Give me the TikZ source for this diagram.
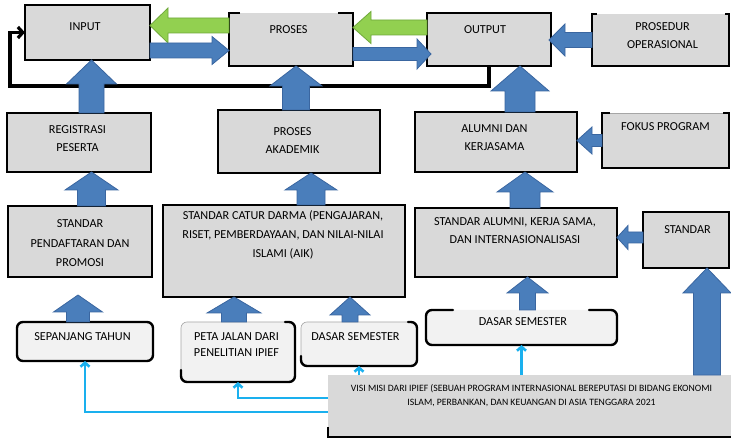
\documentclass[tikz,border=0pt]{standalone}
\usepackage{fontspec}
\setmainfont{Carlito}
\usetikzlibrary{calc,arrows.meta}

\definecolor{boxgray}{HTML}{D9D9D9}
\definecolor{softgray}{HTML}{F2F2F2}
\definecolor{arrowblue}{HTML}{4A7EBB}
\definecolor{arrowedge}{HTML}{3A66A0}
\definecolor{arrowgreen}{HTML}{92D050}
\definecolor{greenedge}{HTML}{6FA83A}
\definecolor{linkcyan}{HTML}{1AB0EE}

\tikzset{
  box/.style={fill=boxgray, draw=black, line width=2.4pt, outer sep=0pt, inner sep=0pt},
  openbox/.style={fill=boxgray, outer sep=0pt, inner sep=0pt},
  softbox/.style={fill=softgray, rounded corners=6pt, outer sep=0pt, inner sep=0pt},
  faintrim/.style={draw=black!35, line width=0.6pt},
  rim/.style={draw=black, line width=2.4pt, line cap=round, rounded corners=6pt},
  sharprim/.style={draw=black, line width=2.4pt, line cap=butt},
  lbl/.style={font=\fontsize{12.2}{18}\selectfont, align=center, inner sep=0pt},
  bluearrow/.style={fill=arrowblue, draw=arrowedge, line width=0.8pt, line join=miter},
  greenarrow/.style={fill=arrowgreen, draw=greenedge, line width=0.8pt, line join=miter},
  loopline/.style={draw=black, line width=3.2pt, -{Straight Barb[length=5pt,width=11pt]}},
  cyanlink/.style={draw=linkcyan, line width=2.6pt, -{Straight Barb[length=4pt,width=9pt]}},
}

% block arrow: #1 style, #2 base, #3 tip, #4 half shaft, #5 half head, #6 head length
\newcommand\blockarrow[6]{%
  \coordinate (ba-h) at ($#3!#6!#2$);
  \path[#1] ($#2!#4!90:#3$) -- ($(ba-h)!#4!90:#3$) -- ($(ba-h)!#5!90:#3$) -- #3
    -- ($(ba-h)!#5!-90:#3$) -- ($(ba-h)!#4!-90:#3$) -- ($#2!#4!-90:#3$) -- cycle;}

\begin{document}
\begin{tikzpicture}[x=1pt, y=-1pt]
\useasboundingbox (0,0) rectangle (731,438);

% ---- top row
\node[box, minimum width=125pt, minimum height=55pt] (in) at (87.5,32.5) {};
\node[openbox, minimum width=124pt, minimum height=53pt] (pro) at (291,39.5) {};
\draw[sharprim] ([xshift=11pt]pro.north west) -- (pro.north west) -- (pro.south west)
  -- (pro.south east) -- (pro.north east) -- ([xshift=-15pt]pro.north east);
\node[box, minimum width=124pt, minimum height=53pt] (out) at (489,39.5) {};
\node[openbox, minimum width=137pt, minimum height=52pt] (psd) at (660.5,40) {};
\draw[sharprim] ([xshift=5pt]psd.north west) -- (psd.north west) -- (psd.south west)
  -- (psd.south east) -- (psd.north east) -- ([xshift=-4pt]psd.north east);

% ---- second row
\node[box, minimum width=144pt, minimum height=59pt] (reg) at (79,142.5) {};
\node[box, minimum width=162pt, minimum height=63pt] (pak) at (299,141.5) {};
\node[box, minimum width=162pt, minimum height=60pt] (alm) at (496,142) {};
\node[openbox, minimum width=127pt, minimum height=55pt] (fok) at (665.5,140.5) {};
\draw[faintrim] (fok.north west) -- (fok.north east);
\draw[sharprim] ([xshift=8pt]fok.north west) -- (fok.north west) -- (fok.south west)
  -- (fok.south east) -- (fok.north east) -- ([xshift=-6pt]fok.north east);

% ---- third row
\node[box, minimum width=144pt, minimum height=71pt] (spd) at (80,241.5) {};
\node[box, minimum width=242pt, minimum height=92pt] (scd) at (284,251) {};
\node[box, minimum width=202pt, minimum height=69pt] (sal) at (516,242.5) {};
\node[box, minimum width=86pt, minimum height=56pt] (std) at (686,240) {};

% ---- bottom row
\node[softbox, draw=black, line width=2.4pt, minimum width=136pt, minimum height=39pt] (spj) at (85,341.5) {};
\node[softbox, minimum width=114pt, minimum height=60pt] (pet) at (238,352) {};
\draw[faintrim, rounded corners=6pt] (pet.south west) rectangle (pet.north east);
\draw[rim] ([yshift=12pt]pet.south west) -- (pet.south west) -- (pet.south east)
  -- (pet.north east) -- ([xshift=-10pt]pet.north east);
\node[softbox, minimum width=116pt, minimum height=44pt] (ds1) at (359,344) {};
\draw[faintrim, rounded corners=6pt] (ds1.south west) rectangle (ds1.north east);
\draw[rim] ([yshift=10pt]ds1.south west) -- (ds1.south west) -- (ds1.south east)
  -- (ds1.north east) -- ([xshift=-9pt]ds1.north east);
\node[softbox, minimum width=191pt, minimum height=35pt] (ds2) at (521.5,327.5) {};
\draw[rim] ([xshift=27pt]ds2.north west) -- (ds2.north west) -- (ds2.south west)
  -- (ds2.south east) -- (ds2.north east) -- ([xshift=-28pt]ds2.north east);
\node[openbox, minimum width=403pt, minimum height=62pt] (vis) at (529.5,406) {};
\draw[sharprim] ([yshift=10pt]vis.south west) -- (vis.south west) -- (vis.south east);

% ---- labels
\node[lbl] (in-t)  at (85,27)     {INPUT};
\node[lbl] (pro-t) at (288.5,30)  {PROSES};
\node[lbl] (out-t) at (485,30)    {OUTPUT};
\node[lbl] (psd-t) at (662.5,36)  {PROSEDUR\\OPERASIONAL};
\node[lbl] (reg-t) at (77.5,138.5) {REGISTRASI\\PESERTA};
\node[lbl] (pak-t) at (292.5,140.5) {PROSES\\AKADEMIK};
\node[lbl] (alm-t) at (494.5,137.5) {ALUMNI DAN\\KERJASAMA};
\node[lbl] (fok-t) at (665.5,127) {FOKUS PROGRAM};
\node[lbl, font=\fontsize{12.2}{19.5}\selectfont] (spd-t) at (80,243.5)
  {STANDAR\\PENDAFTARAN DAN\\PROMOSI};
\node[lbl, font=\fontsize{12.2}{19}\selectfont] (scd-t) at (283,235)
  {STANDAR CATUR DARMA (PENGAJARAN,\\RISET, PEMBERDAYAAN, DAN NILAI-NILAI\\ISLAMI (AIK)};
\node[lbl] (sal-t) at (515,231)   {STANDAR ALUMNI, KERJA SAMA,\\DAN INTERNASIONALISASI};
\node[lbl] (std-t) at (687.5,230) {STANDAR};
\node[lbl] (spj-t) at (82.5,337)  {SEPANJANG TAHUN};
\node[lbl, font=\fontsize{12.2}{16}\selectfont] (pet-t) at (236.5,345)
  {PETA JALAN DARI\\PENELITIAN IPIEF};
\node[lbl] (ds1-t) at (355.5,337) {DASAR SEMESTER};
\node[lbl] (ds2-t) at (523,322)   {DASAR SEMESTER};
\node[lbl, font=\fontsize{9.7}{14}\selectfont] (vis-t) at (531.5,396)
  {VISI MISI DARI IPIEF (SEBUAH PROGRAM INTERNASIONAL BEREPUTASI DI BIDANG EKONOMI\\
   ISLAM, PERBANKAN, DAN KEUANGAN DI ASIA TENGGARA 2021};

% ---- feedback loop from output back to input
\coordinate (loopc) at (10,86);
\draw[loopline] (out.south) |- (loopc) |- (in.west);

% ---- vertical block arrows
\coordinate (b1) at ([xshift=12.5pt]reg.north);  \coordinate (t1) at (b1 |- in.south);
\blockarrow{bluearrow}{(b1)}{(t1)}{12.5pt}{25pt}{24pt}
\coordinate (b2) at ([xshift=-3pt]pak.north);    \coordinate (t2) at (b2 |- pro.south);
\blockarrow{bluearrow}{(b2)}{(t2)}{13.5pt}{26pt}{20pt}
\coordinate (b3) at ([xshift=24pt]alm.north);    \coordinate (t3) at (b3 |- out.south);
\blockarrow{bluearrow}{(b3)}{(t3)}{15pt}{29pt}{25pt}
\coordinate (b4) at ([xshift=11.5pt]spd.north);  \coordinate (t4) at (b4 |- reg.south);
\blockarrow{bluearrow}{(b4)}{(t4)}{14pt}{26.5pt}{18pt}
\coordinate (b5) at ([xshift=27pt]scd.north);    \coordinate (t5) at (b5 |- pak.south);
\blockarrow{bluearrow}{(b5)}{(t5)}{14pt}{26pt}{17pt}
\coordinate (b6) at ([xshift=9pt]sal.north);     \coordinate (t6) at (b6 |- alm.south);
\blockarrow{bluearrow}{(b6)}{(t6)}{15pt}{28pt}{20pt}
\coordinate (b7) at ([xshift=-7pt]spj.north);    \coordinate (t7) at ([yshift=-18pt]b7 |- spd.south);
\blockarrow{bluearrow}{(b7)}{(t7)}{11.5pt}{24.5pt}{17pt}
\coordinate (b8) at ([xshift=-4pt]pet.north);    \coordinate (t8) at (b8 |- scd.south);
\blockarrow{bluearrow}{(b8)}{(t8)}{12.5pt}{27pt}{16pt}
\coordinate (b9) at ([xshift=-9pt]ds1.north);    \coordinate (t9) at (b9 |- scd.south);
\blockarrow{bluearrow}{(b9)}{(t9)}{8pt}{20pt}{18pt}
\coordinate (b10) at ([xshift=6pt]ds2.north);    \coordinate (t10) at (b10 |- sal.south);
\blockarrow{bluearrow}{(b10)}{(t10)}{8pt}{20.5pt}{16pt}
\coordinate (t11) at ([xshift=21pt]std.south);   \coordinate (b11) at (t11 |- vis.north);
\blockarrow{bluearrow}{(b11)}{(t11)}{13.5pt}{24pt}{25pt}

% ---- horizontal block arrows
\coordinate (b12) at ([yshift=14pt]pro.west);    \coordinate (t12) at (b12 -| in.east);
\blockarrow{greenarrow}{(b12)}{(t12)}{7.5pt}{17.5pt}{18pt}
\coordinate (b13) at ([yshift=-18pt]in.east);    \coordinate (t13) at (b13 -| pro.west);
\blockarrow{bluearrow}{(b13)}{(t13)}{7.5pt}{14pt}{17pt}
\coordinate (b14) at ([yshift=12pt]out.west);    \coordinate (t14) at (b14 -| pro.east);
\blockarrow{greenarrow}{(b14)}{(t14)}{7.5pt}{16pt}{18pt}
\coordinate (b15) at ([yshift=-14.5pt]pro.east); \coordinate (t15) at ([xshift=4pt]b15 -| out.west);
\blockarrow{bluearrow}{(b15)}{(t15)}{6.5pt}{15pt}{14pt}
\coordinate (b16) at (psd.west);                 \coordinate (t16) at ([xshift=-2pt]b16 -| out.east);
\blockarrow{bluearrow}{(b16)}{(t16)}{7.5pt}{16pt}{16pt}
\coordinate (b17) at (fok.west);                 \coordinate (t17) at (b17 -| alm.east);
\blockarrow{bluearrow}{(b17)}{(t17)}{6pt}{13.5pt}{15pt}
\coordinate (b18) at ([yshift=2.5pt]std.west);   \coordinate (t18) at (b18 -| sal.east);
\blockarrow{bluearrow}{(b18)}{(t18)}{5.5pt}{12pt}{11pt}

% ---- links from the vision statement
\draw[cyanlink] ([yshift=-6pt]vis.west) -| (spj.south);
\draw[cyanlink] ([yshift=8pt]vis.west) -| (pet.south);
\draw[cyanlink] (ds1.south |- vis.north) -- (ds1.south);
\draw[cyanlink] (ds2.south |- vis.north) -- (ds2.south);
\end{tikzpicture}
\end{document}
